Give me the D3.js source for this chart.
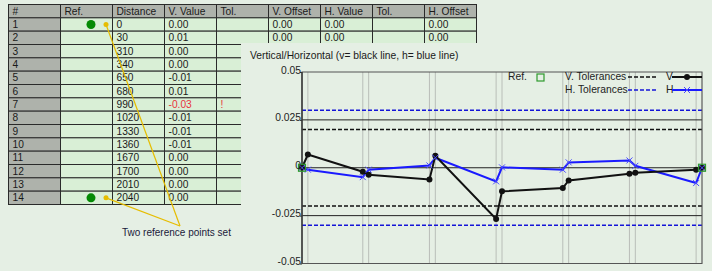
<!DOCTYPE html>
<html>
<head>
<meta charset="utf-8">
<script src="https://cdn.jsdelivr.net/npm/d3@7"></script>
<style>
  body { margin: 0; background: #e5efe4; }
  svg { display: block; font-family: "Liberation Sans", Arial, sans-serif; }
</style>
</head>
<body>
<svg id="chart"></svg>
<script>
// table data
const columns = ["#", "Ref.", "Distance", "V. Value", "Tol.", "V. Offset", "H. Value", "Tol.", "H. Offset"];
const distances = [0, 30, 310, 340, 650, 680, 990, 1020, 1330, 1360, 1670, 1700, 2010, 2040];
const vValueText = ["0.00", "0.01", "0.00", "0.00", "-0.01", "0.01", "-0.03", "-0.01", "-0.01", "-0.01", "0.00", "0.00", "0.00", "0.00"];
const vTolText = ["", "", "", "", "", "", "!", "", "", "", "", "", "", ""];
const vOffsetText = ["0.00", "0.00"];
const hValueText = ["0.00", "0.00"];
const hOffsetText = ["0.00", "0.00"];
const refRows = [1, 14];

// chart data
const vValues = [0, 0.0069, -0.0021, -0.0036, -0.0061, 0.0063, -0.0267, -0.0123, -0.0106, -0.0066, -0.0031, -0.0026, -0.001, 0];
const hValues = [0, -0.001, -0.0049, -0.001, 0.0012, 0.0052, -0.0071, 0.0002, -0.001, 0.0028, 0.0038, 0.001, -0.008, 0];
const vTol = 0.02;
const hTol = 0.03;
const yTicks = [0.05, 0.025, 0, -0.025, -0.05];
const refDistances = [0, 2040];

const width = 712, height = 271;
const bg = "#e5efe4";

const svg = d3.select("#chart").attr("width", width).attr("height", height);

// ---- Table ----
const colX = d3.scaleBand().domain(d3.range(columns.length)).range([8.5, 476.5]);
const rowY = d3.scaleBand().domain(d3.range(distances.length + 1)).range([4.5, 204.5]);

const rows = distances.map((d, i) => [
  String(i + 1), "", String(d), vValueText[i], vTolText[i],
  vOffsetText[i] || "", hValueText[i] || "", "", hOffsetText[i] || ""
]);
const allRows = [columns].concat(rows);

const table = svg.append("g");
allRows.forEach((r, ri) => {
  r.forEach((txt, ci) => {
    const gray = ri === 0 || ci === 0;
    table.append("rect")
      .attr("x", colX(ci)).attr("y", rowY(ri))
      .attr("width", colX.bandwidth()).attr("height", rowY.bandwidth())
      .attr("fill", gray ? "#aeb2ab" : "#d9efd6")
      .attr("stroke", "#2a2a2a").attr("stroke-width", 1);
    const red = ri === 7 && (ci === 3 || ci === 4);
    table.append("text")
      .attr("x", colX(ci) + 4).attr("y", rowY(ri) + rowY.bandwidth() / 2 + 3.6)
      .attr("font-size", 10.2)
      .attr("fill", red ? "#e8333a" : "#1a1a1a")
      .text(txt);
  });
});

// reference dots + annotation
const annot = { x: 180, y: 226 };
refRows.forEach(r => {
  const cy = rowY(r) + rowY.bandwidth() / 2;
  table.append("circle").attr("cx", 91).attr("cy", cy).attr("r", 4.5).attr("fill", "#058a05");
  table.append("line")
    .attr("x1", 106).attr("y1", cy).attr("x2", annot.x).attr("y2", annot.y)
    .attr("stroke", "#e6bd00").attr("stroke-width", 1.2);
  table.append("circle").attr("cx", 106).attr("cy", cy).attr("r", 2.5).attr("fill", "#e6bd00");
});
svg.append("text").attr("x", 122).attr("y", 236).attr("font-size", 10)
  .attr("fill", "#1a1a3a").text("Two reference points set");

// ---- Chart panel ----
svg.append("rect").attr("x", 241).attr("y", 43).attr("width", width - 241).attr("height", height - 43)
  .attr("fill", bg);

svg.append("text").attr("x", 250).attr("y", 59).attr("font-size", 10.3).attr("fill", "#1a1a1a")
  .text("Vertical/Horizontal (v= black line, h= blue line)");

const x = d3.scaleLinear().domain([0, 2040]).range([302, 702]);
const y = d3.scaleLinear().domain([-0.05, 0.05]).range([263.5, 72]);

const plot = svg.append("g");

// vertical grid at each distance
plot.selectAll(".vgrid").data(distances).enter().append("line")
  .attr("x1", d => x(d)).attr("x2", d => x(d))
  .attr("y1", y(0.05)).attr("y2", y(-0.05))
  .attr("stroke", "#b9beb8").attr("stroke-width", 1);

// solid lines at ticks 0.025, 0, -0.025
plot.selectAll(".hline").data([0.025, 0, -0.025]).enter().append("line")
  .attr("x1", x(0)).attr("x2", x(2040))
  .attr("y1", d => y(d)).attr("y2", d => y(d))
  .attr("stroke", "#222").attr("stroke-width", 1);

// tolerance dashed lines
[[vTol, "#111"], [-vTol, "#111"], [hTol, "#1414d8"], [-hTol, "#1414d8"]].forEach(([v, c]) => {
  plot.append("line")
    .attr("x1", x(0)).attr("x2", x(2040))
    .attr("y1", y(v)).attr("y2", y(v))
    .attr("stroke", c).attr("stroke-width", 1.6).attr("stroke-dasharray", "4,2");
});

// frame
plot.append("rect").attr("x", x(0)).attr("y", y(0.05))
  .attr("width", x(2040) - x(0)).attr("height", y(-0.05) - y(0.05))
  .attr("fill", "none").attr("stroke", "#555").attr("stroke-width", 1);
plot.append("line").attr("x1", x(0)).attr("x2", x(0)).attr("y1", y(0.05)).attr("y2", y(-0.05))
  .attr("stroke", "#333").attr("stroke-width", 1.3);

// y axis labels
const yAxis = d3.axisLeft(y).tickValues(yTicks).tickSize(2).tickFormat(d => d === 0 ? "0" : String(d));
const ya = svg.append("g").attr("transform", `translate(${x(0)},0)`).call(yAxis);
ya.select(".domain").remove();
ya.selectAll("text").attr("font-size", 10.3).attr("font-family", "Liberation Sans, Arial, sans-serif")
  .attr("fill", "#222").attr("dy", "0.1em").attr("x", -1);
ya.selectAll("line").attr("stroke", "#333");

// series
const vData = distances.map((d, i) => [d, vValues[i]]);
const hData = distances.map((d, i) => [d, hValues[i]]);
const line = d3.line().x(d => x(d[0])).y(d => y(d[1]));

plot.append("path").datum(hData).attr("d", line)
  .attr("fill", "none").attr("stroke", "#1a1aff").attr("stroke-width", 2);
plot.append("path").datum(vData).attr("d", line)
  .attr("fill", "none").attr("stroke", "#111").attr("stroke-width", 2);
plot.selectAll(".vdot").data(vData).enter().append("circle")
  .attr("cx", d => x(d[0])).attr("cy", d => y(d[1])).attr("r", 3).attr("fill", "#111");

const cross = (g, cx, cy, s, col) => {
  g.append("path").attr("d", `M${cx - s},${cy - s}L${cx + s},${cy + s}M${cx - s},${cy + s}L${cx + s},${cy - s}`)
    .attr("stroke", col).attr("stroke-width", 1);
};
hData.forEach(d => cross(plot, x(d[0]), y(d[1]), 3, "#4a4aff"));

// reference markers
plot.selectAll(".ref").data(refDistances).enter().append("rect")
  .attr("x", d => x(d) - 3.5).attr("y", y(0) - 3.5).attr("width", 7).attr("height", 7)
  .attr("fill", "none").attr("stroke", "#2e9a2e").attr("stroke-width", 1.2);

// legend
const lg = svg.append("g").attr("font-size", 10.3).attr("fill", "#222");
lg.append("text").attr("x", 508).attr("y", 80).text("Ref.");
lg.append("rect").attr("x", 537).attr("y", 74).attr("width", 7).attr("height", 7)
  .attr("fill", "none").attr("stroke", "#2e9a2e").attr("stroke-width", 1.2);
lg.append("text").attr("x", 565).attr("y", 80).text("V. Tolerances");
lg.append("text").attr("x", 565).attr("y", 93).text("H. Tolerances");
lg.append("line").attr("x1", 628).attr("x2", 658).attr("y1", 77).attr("y2", 77)
  .attr("stroke", "#111").attr("stroke-width", 1.6).attr("stroke-dasharray", "4,2");
lg.append("line").attr("x1", 628).attr("x2", 658).attr("y1", 90).attr("y2", 90)
  .attr("stroke", "#1414d8").attr("stroke-width", 1.6).attr("stroke-dasharray", "4,2");
lg.append("text").attr("x", 666).attr("y", 80).text("V");
lg.append("text").attr("x", 666).attr("y", 93).text("H");
lg.append("line").attr("x1", 672).attr("x2", 702).attr("y1", 77).attr("y2", 77)
  .attr("stroke", "#111").attr("stroke-width", 2);
lg.append("circle").attr("cx", 687).attr("cy", 77).attr("r", 3).attr("fill", "#111");
lg.append("line").attr("x1", 672).attr("x2", 702).attr("y1", 90).attr("y2", 90)
  .attr("stroke", "#1a1aff").attr("stroke-width", 2);
cross(lg, 687, 90, 3, "#4a4aff");
</script>
</body>
</html>
